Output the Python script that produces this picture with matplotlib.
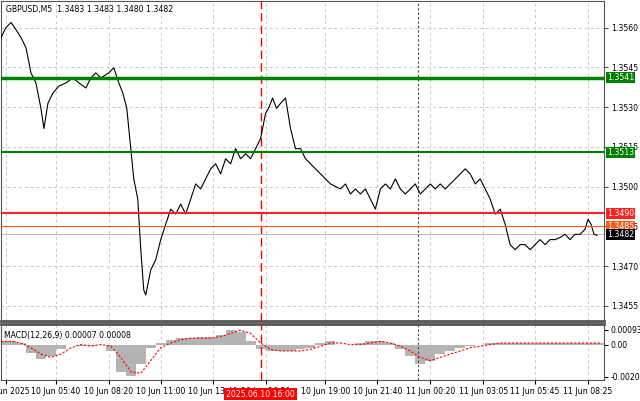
import matplotlib
matplotlib.use("Agg")
import matplotlib.pyplot as plt
import numpy as np

PX = 1.64  # pixels per bar (only for converting positions)
price_x = [0,5,10,15,20,25,30,35,40,43,47,52,58,65,72,78,85,90,95,100,108,113,118,122,126,130,133,137,140,143,145,150,155,160,165,170,175,180,185,190,195,200,205,210,215,220,225,230,235,240,245,250,255,260,265,268,272,276,280,285,290,295,300,305,310,315,320,325,330,340,345,350,355,360,365,370,375,380,385,390,395,400,405,410,415,420,425,430,435,440,445,450,455,460,465,470,475,480,485,490,495,500,505,510,515,520,525,530,535,540,545,550,555,560,565,570,575,580,585,588,591,594,597]
price_y = [1.35562,1.35600,1.35619,1.35592,1.35562,1.35524,1.35429,1.35391,1.35295,1.35219,1.35314,1.35353,1.35379,1.35391,1.35410,1.35391,1.35372,1.35410,1.35429,1.35410,1.35429,1.35448,1.35391,1.35353,1.35295,1.35143,1.35029,1.34953,1.34762,1.34610,1.34591,1.34686,1.34724,1.34800,1.34858,1.34915,1.34896,1.34934,1.34896,1.34953,1.35010,1.34991,1.35029,1.35067,1.35086,1.35048,1.35105,1.35086,1.35143,1.35105,1.35124,1.35105,1.35143,1.35181,1.35276,1.35295,1.35334,1.35295,1.35314,1.35334,1.35219,1.35143,1.35143,1.35105,1.35086,1.35067,1.35048,1.35029,1.35010,1.34991,1.35010,1.34972,1.34991,1.34972,1.34991,1.34953,1.34915,1.34991,1.35010,1.34991,1.35029,1.34991,1.34972,1.34991,1.35010,1.34972,1.34991,1.35010,1.34991,1.35010,1.34991,1.35010,1.35029,1.35048,1.35067,1.35048,1.35010,1.35029,1.34991,1.34953,1.34896,1.34915,1.34858,1.34781,1.34762,1.34781,1.34781,1.34762,1.34781,1.34800,1.34781,1.34800,1.34800,1.34808,1.34820,1.34800,1.34820,1.34820,1.34839,1.34877,1.34858,1.34820,1.34816]

macd_x = list(range(0, 601, 10))
macd_hist = [0.0002,0.0002,0.0001,-0.0005,-0.0009,-0.0007,-0.0003,0.0,-0.0001,-0.0001,0.0,-0.0004,-0.0017,-0.0020,-0.0012,-0.0002,0.0001,0.0003,0.0004,0.0004,0.0005,0.0005,0.0006,0.0009,0.0008,0.0002,-0.0003,-0.0004,-0.0004,-0.0004,-0.0003,-0.0002,0.0001,0.0002,0.0,0.0,0.0001,0.0002,0.0002,0.0001,-0.0003,-0.0007,-0.0012,-0.0010,-0.0006,-0.0004,-0.0002,-0.0001,0.0,0.0001,0.0001,0.0001,0.0001,0.0001,0.0001,0.0001,0.0001,0.0001,0.0001,0.0001,0.0001]
macd_sig = [0.0002,0.0002,0.0001,-0.0002,-0.0006,-0.0008,-0.0006,-0.0002,0.0,-0.0001,0.0,-0.0001,-0.0008,-0.0017,-0.0018,-0.0010,-0.0002,0.0001,0.0003,0.0004,0.0004,0.0004,0.0005,0.0007,0.0009,0.0007,0.0001,-0.0003,-0.0004,-0.0004,-0.0004,-0.0003,-0.0001,0.0001,0.0001,0.0,0.0,0.0001,0.0002,0.0001,-0.0001,-0.0004,-0.0008,-0.0010,-0.0008,-0.0006,-0.0004,-0.0002,-0.0001,0.0,0.0001,0.0001,0.0001,0.0001,0.0001,0.0001,0.0001,0.0001,0.0001,0.0001,0.0001]

xtick_px = [5,55,108,160,212,265,325,377,430,483,535,588]
xtick_labels = ["10 Jun 2025","10 Jun 05:40","10 Jun 08:20","10 Jun 11:00","10 Jun 13:40","10 Jun 16:20","10 Jun 19:00","10 Jun 21:40","11 Jun 00:20","11 Jun 03:05","11 Jun 05:45","11 Jun 08:25"]
ytick_vals = [1.3455,1.3470,1.3485,1.3500,1.3515,1.3530,1.3545,1.3560]
levels_green = [1.3541, 1.3513]
level_red = 1.3490
level_orange = 1.3485
last_price = 1.3482
macd_ticks = [0.00093, 0.0, -0.00202]
macd_tick_labels = ["0.00093", "0.00", "-0.00202"]

FS = 5.6
W, H = 640, 401
fig = plt.figure(figsize=(W/100, H/100), dpi=100)
fig.patch.set_facecolor("white")
ax = fig.add_axes([1/W, 1-321/H, 603/W, 320/H])
axm = fig.add_axes([1/W, 1-380/H, 603/W, 56/H])

xmax = 604/PX
for a in (ax, axm):
    a.set_xlim(0, xmax)
    for s in a.spines.values():
        s.set_color("#555555")
    for xp in xtick_px:
        a.axvline(xp/PX, color="#c8c8c8", ls=(0,(3,3)), lw=0.7, zorder=0)
    a.axvline(260/PX, color="red", ls=(0,(6,3)), lw=1, zorder=3)
    a.axvline(418/PX, color="#444444", ls=(0,(2,2)), lw=0.8, zorder=3)
ax.spines["bottom"].set_linewidth(2)
axm.spines["top"].set_linewidth(2)

px = np.array(price_x)/PX
ax.set_ylim(1.34493, 1.35700)
for yv in ytick_vals:
    ax.axhline(yv, color="#c8c8c8", ls=(0,(3,3)), lw=0.7, zorder=0)
ax.plot(px, price_y, color="black", lw=0.8, zorder=4)
ax.axhline(levels_green[0], color="#008000", lw=2.5, zorder=5)
ax.axhline(levels_green[1], color="#008000", lw=1.5, zorder=5)
ax.axhline(level_red, color="#ff2020", lw=1.5, zorder=5)
ax.axhline(level_orange, color="#ff5a1a", lw=0.8, zorder=5)
ax.axhline(last_price, color="#b0b0b0", lw=0.6, zorder=2)
ax.yaxis.tick_right()
ax.set_yticks(ytick_vals)
ax.set_yticklabels([f"{v:.4f}" for v in ytick_vals], fontsize=FS)
ax.tick_params(axis="y", length=3, pad=2, color="#555555")
ax.set_xticks([])
for val, fc in [(levels_green[0], "#008000"), (levels_green[1], "#008000"),
                (level_red, "#ff2020"), (level_orange, "#ff5a1a"), (last_price, "black")]:
    ax.text(1.005, val, f"{val:.4f}", transform=ax.get_yaxis_transform(), fontsize=FS,
            color="white", va="center", ha="left",
            bbox=dict(boxstyle="square,pad=0.12", fc=fc, ec="none"), zorder=10, clip_on=False)
ax.text(0.008, 0.988, "GBPUSD,M5  1.3483 1.3483 1.3480 1.3482", transform=ax.transAxes,
        fontsize=FS, va="top", ha="left")

mx = np.array(macd_x)/PX
axm.set_ylim(-0.00222, 0.00129)
axm.bar(mx, macd_hist, width=10/PX, color="#b4b4b4", zorder=2, align="center")
axm.plot(mx, macd_sig, color="red", ls=(0,(2,1.5)), lw=0.8, zorder=4)
axm.yaxis.tick_right()
axm.set_yticks(macd_ticks)
axm.set_yticklabels(macd_tick_labels, fontsize=FS)
axm.tick_params(axis="y", length=3, pad=2)
axm.set_xticks(np.array(xtick_px)/PX)
axm.set_xticklabels(xtick_labels, fontsize=FS)
axm.tick_params(axis="x", length=3, pad=2)
axm.text(0.005, 0.88, "MACD(12,26,9) 0.00007 0.00008", transform=axm.transAxes, fontsize=FS, va="top")
axm.text(260/PX, -0.0031, "2025.06.10 16:00", fontsize=FS, color="white", ha="center", va="center",
         bbox=dict(boxstyle="square,pad=0.25", fc="red", ec="none"), zorder=10, clip_on=False)

fig.savefig("out.png", dpi=100, facecolor="white")
